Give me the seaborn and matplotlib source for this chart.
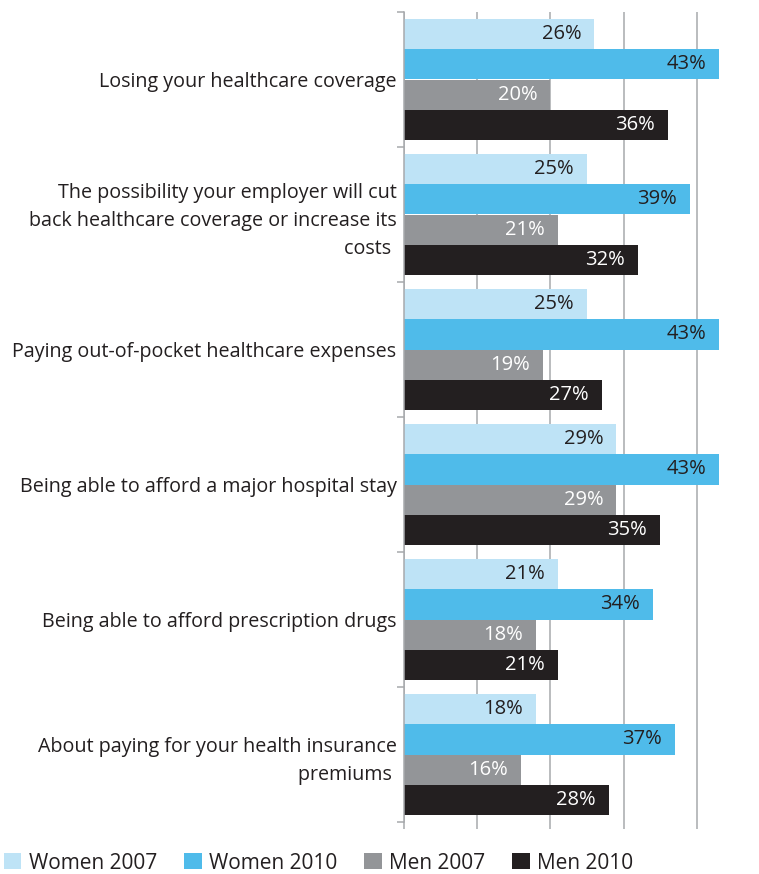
import matplotlib
matplotlib.use("Agg")
import matplotlib.pyplot as plt
import seaborn as sns
import pandas as pd
from matplotlib.patches import Patch

categories = [
    "Losing your healthcare coverage",
    "The possibility your employer will cut\nback healthcare coverage or increase its\ncosts ",
    "Paying out-of-pocket healthcare expenses",
    "Being able to afford a major hospital stay",
    "Being able to afford prescription drugs",
    "About paying for your health insurance\npremiums ",
]
series = ["Women 2007", "Women 2010", "Men 2007", "Men 2010"]
women_2007 = [26, 25, 25, 29, 21, 18]
women_2010 = [43, 39, 43, 43, 34, 37]
men_2007 = [20, 21, 19, 29, 18, 16]
men_2010 = [36, 32, 27, 35, 21, 28]

colors = ["#bee3f6", "#4fbbea", "#939598", "#231f20"]
label_colors = ["#231f20", "#231f20", "#ffffff", "#ffffff"]

rows = []
for name, vals in zip(series, [women_2007, women_2010, men_2007, men_2010]):
    for cat, v in zip(categories, vals):
        rows.append({"Concern": cat, "Group": name, "Percent": v})
df = pd.DataFrame(rows)

sns.set_style("white")
plt.rcParams["font.family"] = ["Open Sans", "DejaVu Sans"]

fig = plt.figure(figsize=(7.59, 8.74), dpi=100)
ax = fig.add_axes([403.5 / 759, 52 / 874, 1 - 403.5 / 759, (822 - 12) / 874])

sns.barplot(
    data=df, y="Concern", x="Percent", hue="Group",
    order=categories, hue_order=series, palette=colors,
    orient="h", width=0.89, saturation=1, legend=False, ax=ax,
    linewidth=0, edgecolor="none",
)

ax.set_xlim(0, 48.45)
ax.set_ylim(len(categories) - 0.5, -0.5)
ax.set_xlabel("")
ax.set_ylabel("")

# Value labels inside the bar ends
for cont, vals, tc in zip(ax.containers, [women_2007, women_2010, men_2007, men_2010], label_colors):
    for patch, v in zip(cont.patches, vals):
        ax.annotate(
            f"{v}%", xy=(patch.get_width(), patch.get_y() + patch.get_height() / 2),
            xytext=(-13, 0), textcoords="offset pixels",
            ha="right", va="center", fontsize=14.5, color=tc,
        )

# Grid and spines
ax.set_xticks([0, 10, 20, 30, 40])
ax.xaxis.grid(True, color="#a7a9ac", linewidth=1.1)
ax.set_axisbelow(True)
ax.tick_params(axis="x", bottom=True, length=5, color="#a7a9ac", width=1.1, labelbottom=False)
for s in ["top", "right", "bottom"]:
    ax.spines[s].set_visible(False)
ax.spines["left"].set_color("#a7a9ac")
ax.spines["left"].set_linewidth(1.1)

ax.set_yticks(range(len(categories)))
ax.set_yticklabels(categories, fontsize=14.2, color="#231f20", linespacing=1.55)
ax.tick_params(axis="y", which="major", length=0, pad=5)
ax.set_yticks([i - 0.5 for i in range(len(categories) + 1)], minor=True)
ax.tick_params(axis="y", which="minor", left=True, length=5, color="#a7a9ac", width=1.1)
for t in ax.get_yticklabels():
    t.set_multialignment("right")

handles = [Patch(facecolor=c, edgecolor="none") for c in colors]
fig.legend(
    handles, series, loc="lower left", bbox_to_anchor=(-0.02, -0.021), ncol=4,
    frameon=False, fontsize=15, handlelength=0.86, handleheight=0.82,
    handletextpad=0.34, columnspacing=1.3, labelcolor="#231f20",
)

fig.savefig("out.png", dpi=100)
